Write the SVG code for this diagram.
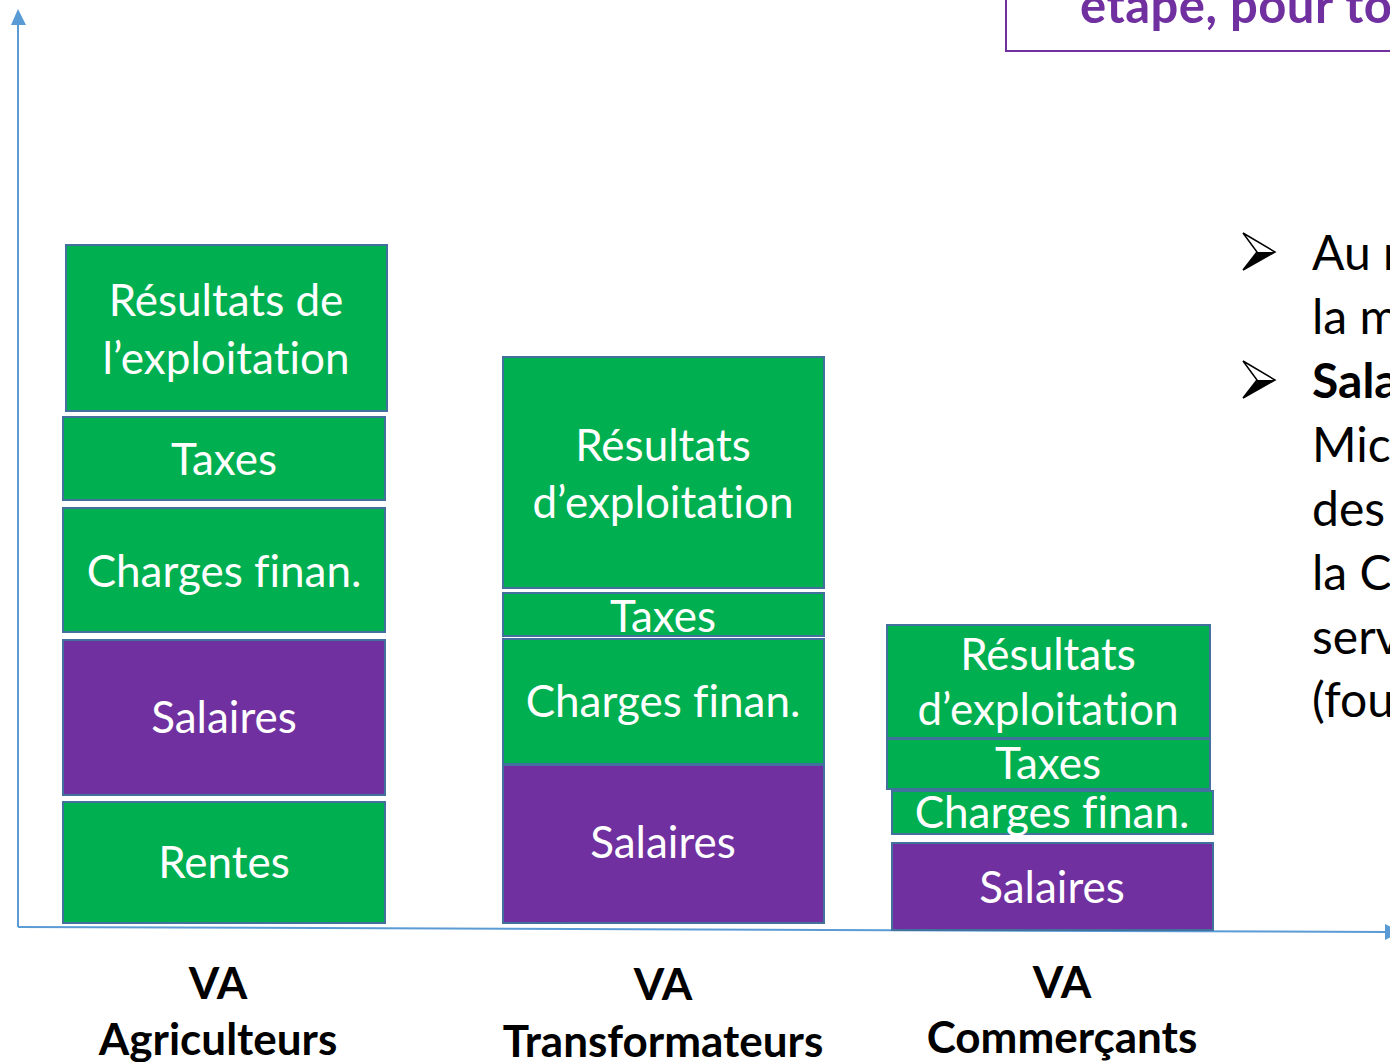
<svg xmlns="http://www.w3.org/2000/svg" width="1390" height="1062" viewBox="0 0 1390 1062">
<style>
text{font-variant-ligatures:none}
.g{fill:#00B050;stroke:#41719C;stroke-width:2}
.p{fill:#7030A0;stroke:#41719C;stroke-width:2}
.t{font-family:Lato,"Liberation Sans",sans-serif;font-size:44px;fill:#FFFFFF;text-anchor:middle}
.lab{font-family:Lato,"Liberation Sans",sans-serif;font-size:44px;font-weight:bold;fill:#000000;text-anchor:middle}
.rt{font-family:Lato,"Liberation Sans",sans-serif;font-size:48px;fill:#000000}
.ax{stroke:#5B9BD5;stroke-width:2;fill:none}
</style>
<rect width="1390" height="1062" fill="#FFFFFF"/>
<g id="connectors">
<line class="ax" x1="18" y1="927" x2="18" y2="20"/>
<polygon points="18,9 11,25 26,25" fill="#5B9BD5"/>
<line class="ax" x1="18" y1="927" x2="1388" y2="932"/>
<polygon points="1385,924 1385,940 1401,932" fill="#5B9BD5"/>
</g>
<g id="title-box">
<rect x="1006" y="-10" width="400" height="61" fill="none" stroke="#7030A0" stroke-width="2"/>
<text x="1080" y="23" style="font-family:Lato,'Liberation Sans',sans-serif;font-size:49px;font-weight:bold;fill:#7030A0;letter-spacing:0.5px">étape, pour to</text>
</g>
<g id="col1-resultats"><rect class="g" x="66" y="245" width="321" height="166"/><text class="t" x="226" y="316">Résultats de</text><text class="t" x="226" y="374">l’exploitation</text></g>
<g id="col1-taxes"><rect class="g" x="63" y="417" width="322" height="83"/><text class="t" x="224" y="475">Taxes</text></g>
<g id="col1-charges"><rect class="g" x="63" y="508" width="322" height="124"/><text class="t" x="224" y="587">Charges finan.</text></g>
<g id="col1-salaires"><rect class="p" x="63" y="640" width="322" height="155"/><text class="t" x="224" y="733">Salaires</text></g>
<g id="col1-rentes"><rect class="g" x="63" y="802" width="322" height="121"/><text class="t" x="224" y="878">Rentes</text></g>
<g id="col2-resultats"><rect class="g" x="503" y="357" width="321" height="231"/><text class="t" x="663" y="461">Résultats</text><text class="t" x="663" y="518">d’exploitation</text></g>
<g id="col2-taxes"><rect class="g" x="503" y="593" width="321" height="43"/><text class="t" x="663" y="632">Taxes</text></g>
<g id="col2-charges"><rect class="g" x="503" y="639" width="321" height="125"/><text class="t" x="663" y="717">Charges finan.</text></g>
<g id="col2-salaires"><rect class="p" x="503" y="765" width="321" height="158"/><text class="t" x="663" y="858">Salaires</text></g>
<g id="col3-resultats"><rect class="g" x="887" y="625" width="323" height="113"/><text class="t" x="1048" y="670">Résultats</text><text class="t" x="1048" y="725">d’exploitation</text></g>
<g id="col3-taxes"><rect class="g" x="887" y="739" width="323" height="50"/><text class="t" x="1048" y="779">Taxes</text></g>
<g id="col3-charges"><rect class="g" x="892" y="791" width="321" height="43"/><text class="t" x="1052" y="828">Charges finan.</text></g>
<g id="col3-salaires"><rect class="p" x="892" y="843" width="321" height="87"/><text class="t" x="1052" y="903">Salaires</text></g>
<g id="labels">
<text class="lab" x="218" y="999">VA</text><text class="lab" x="218" y="1055">Agriculteurs</text>
<text class="lab" x="663" y="1000">VA</text><text class="lab" x="663" y="1057">Transformateurs</text>
<text class="lab" x="1062" y="998">VA</text><text class="lab" x="1062" y="1053">Commerçants</text>
</g>
<g id="bullets">
<polygon points="1243,233 1275,252 1243,270 1257,252" fill="#FFFFFF" stroke="#000000" stroke-width="1.5" stroke-linejoin="miter"/>
<polygon points="1257,252 1275,252 1243,270" fill="#000000"/>
<polygon points="1243,361 1275,380 1243,398 1257,380" fill="#FFFFFF" stroke="#000000" stroke-width="1.5"/>
<polygon points="1257,380 1275,380 1243,398" fill="#000000"/>
<text class="rt" x="1312" y="270">Au r</text>
<text class="rt" x="1312" y="334">la m</text>
<text class="rt" x="1312" y="398" font-weight="bold">Sala</text>
<text class="rt" x="1312" y="462">Mic</text>
<text class="rt" x="1312" y="526">des</text>
<text class="rt" x="1312" y="590">la C</text>
<text class="rt" x="1312" y="654">serv</text>
<text class="rt" x="1312" y="717">(fou</text>
</g>
</svg>
